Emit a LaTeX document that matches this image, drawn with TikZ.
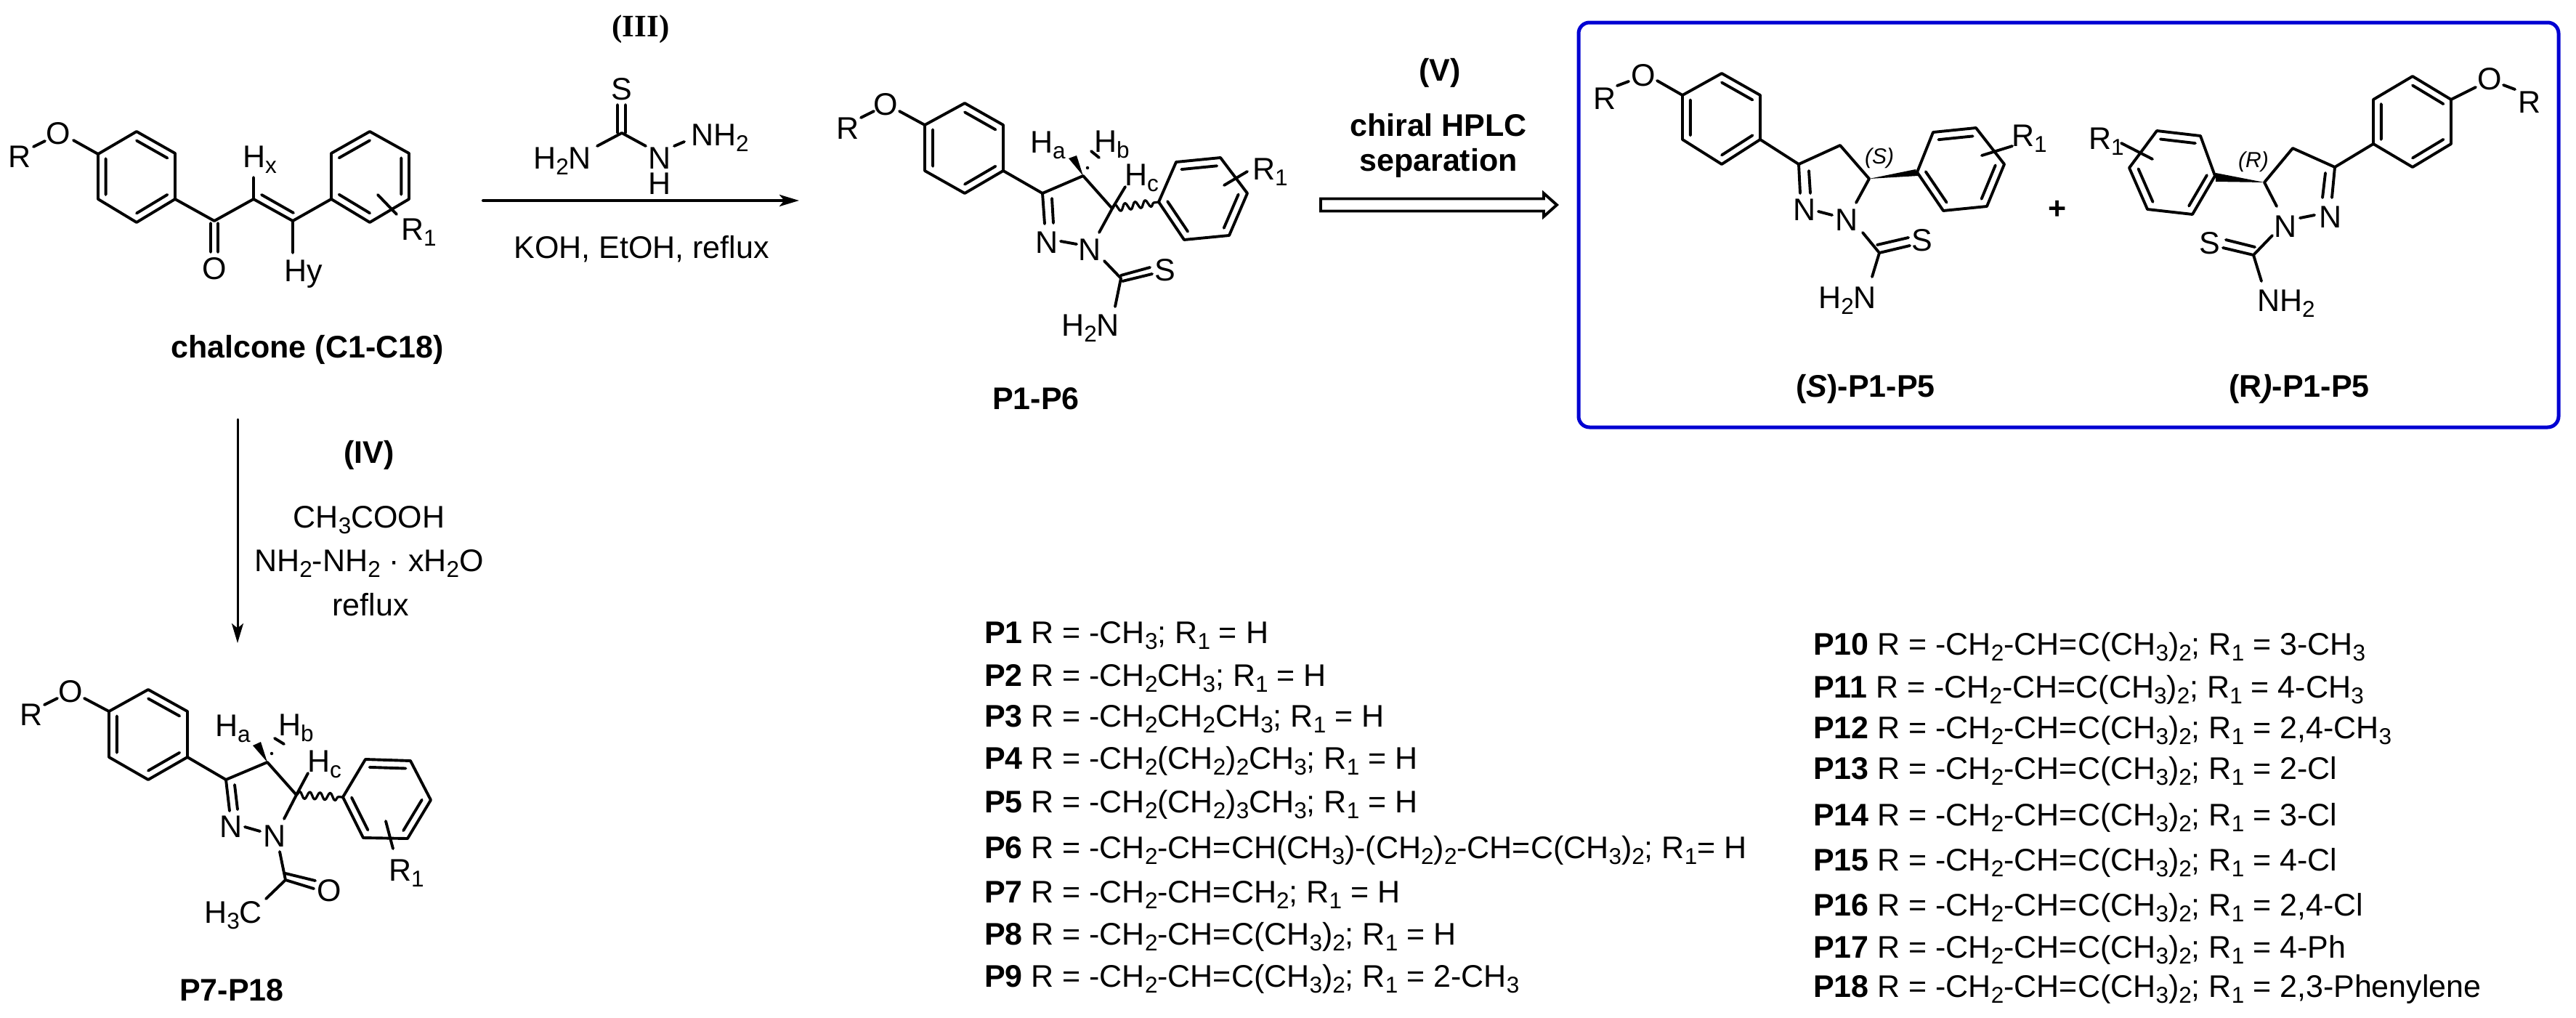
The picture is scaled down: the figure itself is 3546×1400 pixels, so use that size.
\documentclass[tikz,border=0pt]{standalone}
\usepackage{fontspec}
\setmainfont{Liberation Sans}
\newfontfamily\romanfont{Liberation Serif}
\usetikzlibrary{calc,arrows.meta,decorations.pathmorphing}
\definecolor{boxblue}{RGB}{0,0,210}
\newcommand\labfont{\fontsize{8.6pt}{10.3pt}\selectfont}
\newcommand\sbs[1]{\raisebox{-1.7pt}{\fontsize{6.3pt}{7pt}\selectfont #1}}
\newcommand\rone{R\sbs{1}}
\newcommand\prenyl{-CH\sbs{2}-CH=C(CH\sbs{3})\sbs{2}}
% ring outline, with inner lines on the edges 1-2, 3-4 and 5-6
\newcommand\benzring[6]{%
	\draw[bond] #1--#2--#3--#4--#5--#6--cycle;
	\coordinate (cc) at ($#1!.5!#4$);
	\draw[bond] ($#1!.2!(cc)$)--($#2!.2!(cc)$) ($#3!.2!(cc)$)--($#4!.2!(cc)$) ($#5!.2!(cc)$)--($#6!.2!(cc)$);
}
\tikzset{
	bond/.style={line width=.78pt},
	atom/.style={inner sep=0pt,text height=6.1pt,text depth=0pt},
	boldlab/.style={atom,font={\labfont\bfseries}},
	listrow/.style={inner sep=0pt,anchor=base west},
	wavy/.style={line width=.65pt,decorate,decoration={snake,amplitude=1pt,segment length=2.8pt}},
	rxn/.style={line width=.8pt,-{Stealth[length=5.4pt,width=3.2pt,inset=1.3pt]}},
	hollow/.style={line width=.78pt,miter limit=10,line join=miter},
}
\begin{document}
\begin{tikzpicture}[line join=round,line cap=round,x=.2pt,y=-.2pt,font=\labfont]
	\useasboundingbox (0,0) rectangle (3546,1400);
	% chalcone
	\benzring{(188,181)}{(241,211)}{(241,274)}{(188,306)}{(135,274)}{(135,212)}
	\benzring{(456,211)}{(509,181)}{(563,211)}{(563,274)}{(509,306)}{(456,274)}
	\node[atom] (chalR) at (27,215) {R};
	\node[atom] (chalO) at (80,183) {O};
	\node[atom] (chalOk) at (295,369) {O};
	\node[atom,anchor=west] (chalHx) at (333,215) {H\sbs{x}};
	\node[atom,anchor=west] (chalHy) at (390,372) {Hy};
	\node[atom,anchor=west] (chalRa) at (551,315) {\rone};
	\node[boldlab] (chalname) at (423,477) {chalcone (C1-C18)};
	\draw[bond]
	(46,202)--(62,194)
	(101,193)--(135,212)
	(241,274)--(295,304)--(349,274)--(403,304)--(456,274)
	(290,307)--(290,347) (300,307)--(300,347)
	(349,274)--(349,244)
	(403,304)--(403,348)
	(360,268)--(404,293)
	(520,268)--(546,295)
	;
	% reaction III
	\node[atom,font={\labfont\romanfont\bfseries}] (stepIII) at (882,35) {(III)};
	\node[atom] (tsS) at (856,122) {S};
	\node[atom,anchor=east] (tsNa) at (815,217) {H\sbs{2}N};
	\node[atom] (tsN) at (908,217) {N};
	\node[atom] (tsH) at (908,252) {H};
	\node[atom,anchor=west] (tsNb) at (950,185) {NH\sbs{2}};
	\draw[bond]
	(850,144)--(850,183) (861,144)--(861,183)
	(822,201)--(856,183)--(889,201)
	(928,201)--(942,195)
	;
	\coordinate (rxnIIIa) at (665,276);
	\coordinate (rxnIIIb) at (1100,276);
	\draw[rxn] (rxnIIIa)--(rxnIIIb);
	\node[atom] (condIII) at (883,340) {KOH, EtOH, reflux};
	% P1-P6
	\benzring{(1328,142)}{(1381,172)}{(1381,235)}{(1328,266)}{(1273,235)}{(1273,172)}
	\benzring{(1619,223)}{(1680,217)}{(1717,266)}{(1692,324)}{(1630,330)}{(1595,278)}
	\coordinate (pCa) at (1435,266);
	\coordinate (pCb) at (1491,242);
	\coordinate (pCc) at (1531,287);
	\coordinate (pAr) at (1595,278);
	\node[atom] (pR) at (1167,176) {R};
	\node[atom] (pO) at (1219,143) {O};
	\node[atom,anchor=west] (pHa) at (1417,195) {H\sbs{a}};
	\node[atom,anchor=west] (pHb) at (1505,194) {H\sbs{b}};
	\node[atom,anchor=west] (pHc) at (1547,240) {H\sbs{c}};
	\node[atom] (pNb) at (1441,333) {N};
	\node[atom] (pNa) at (1500,343) {N};
	\node[atom] (pS) at (1604,371) {S};
	\node[atom,anchor=east] (pNH) at (1542,447) {H\sbs{2}N};
	\node[atom,anchor=west] (pRa) at (1723,232) {\rone};
	\node[boldlab] (pname) at (1426,548) {P1-P6};
	\draw[bond]
	(1185,162)--(1203,153)
	(1238,153)--(1273,172)
	(1381,235)--(pCa)--(pCb)--(pCc)--(1513,320)
	(pCa)--(1438,308) (1448,273)--(1450,307)
	(1460,332)--(1482,336)
	(1520,359)--(1543,383)--(1535,422)
	(1543,379)--(1583,368) (1545,387)--(1586,377)
	(pCc)--(1549,257)
	(1685,255)--(1717,236)
	(1502,208)--(1513,217)
	;
	\fill (pCb)--(1471,218)--(1482,214)--cycle;
	\fill (1497,231) circle (.45pt);
	\draw[wavy] (pCc)--(pAr);
	% reaction V
	\node[boldlab] (stepV) at (1982,96) {(V)};
	\node[boldlab] (hplcA) at (1980,172) {chiral HPLC};
	\node[boldlab] (hplcB) at (1980,220) {separation};
	\coordinate (rxnVa) at (1818,282);
	\coordinate (rxnVb) at (2143,282);
	\draw[hollow] ($(rxnVa)+(0,-8.5)$)--($(rxnVb)+(-18,-8.5)$)--($(rxnVb)+(-18,-16)$)--(rxnVb)--($(rxnVb)+(-18,16)$)--($(rxnVb)+(-18,8.5)$)--($(rxnVa)+(0,8.5)$)--cycle;
	% frame
	\draw[boxblue,line width=1pt,rounded corners=3pt] (2173,31) rectangle (3522,588);
	% S form
	\benzring{(2370,101)}{(2423,131)}{(2423,192)}{(2370,226)}{(2316,192)}{(2316,131)}
	\benzring{(2661,182)}{(2720,176)}{(2759,226)}{(2735,284)}{(2675,290)}{(2639,237)}
	\coordinate (sCa) at (2476,226);
	\coordinate (sCb) at (2533,200);
	\coordinate (sCc) at (2573,246);
	\node[atom] (sR) at (2209,135) {R};
	\node[atom] (sO) at (2262,103) {O};
	\node[atom] (sNb) at (2484,288) {N};
	\node[atom] (sNa) at (2542,302) {N};
	\node[atom] (sS) at (2646,330) {S};
	\node[atom,anchor=east] (sNH) at (2584,409) {H\sbs{2}N};
	\node[atom,anchor=west] (sRa) at (2768,186) {\rone};
	\node[inner sep=0pt,font={\fontsize{6pt}{7pt}\selectfont\itshape}] (sLab) at (2587,218) {(S)};
	\node[boldlab] (sname) at (2568,531) {(\textit{S})-P1-P5};
	\draw[bond]
	(2226,118)--(2242,112)
	(2281,111)--(2316,131)
	(2423,192)--(sCa)--(sCb)--(sCc)--(2555,279)
	(sCa)--(2478,266) (2490,235)--(2492,266)
	(2503,291)--(2522,296)
	(2564,320)--(2587,348)--(2577,381)
	(2584,337)--(2627,327) (2587,348)--(2629,338)
	(2728,214)--(2770,201)
	;
	\fill (sCc)--(2637,233)--(2640,242)--cycle;
	\node[boldlab] (plus) at (2832,286) {+};
	% R form
	\benzring{(3321,105)}{(3374,137)}{(3374,198)}{(3321,230)}{(3267,198)}{(3267,137)}
	\benzring{(2969,180)}{(3029,187)}{(3049,242)}{(3018,295)}{(2956,288)}{(2931,231)}
	\coordinate (rCa) at (3214,230);
	\coordinate (rCb) at (3156,204);
	\coordinate (rCc) at (3117,251);
	\node[atom] (rR) at (3482,140) {R};
	\node[atom] (rO) at (3427,108) {O};
	\node[atom] (rNb) at (3208,298) {N};
	\node[atom] (rNa) at (3146,311) {N};
	\node[atom] (rS) at (3042,334) {S};
	\node[atom,anchor=west] (rNH) at (3106,413) {NH\sbs{2}};
	\node[atom,anchor=west] (rRa) at (2874,190) {\rone};
	\node[inner sep=0pt,font={\fontsize{6pt}{7pt}\selectfont\itshape}] (rLab) at (3102,223) {(R)};
	\node[boldlab] (rname) at (3165,531) {(R\textit{)}-P1-P5};
	\draw[bond]
	(3446,117)--(3462,123)
	(3374,137)--(3408,120)
	(3267,198)--(rCa)--(rCb)--(rCc)--(3134,284)
	(rCa)--(3210,272) (3201,238)--(3197,272)
	(3186,296)--(3166,300)
	(3128,324)--(3102,351)--(3113,387)
	(3104,340)--(3064,330) (3102,351)--(3060,341)
	(2963,219)--(2920,197)
	;
	\fill (rCc)--(3050,238)--(3050,250)--cycle;
	% reaction IV
	\coordinate (rxnIVa) at (327,577);
	\coordinate (rxnIVb) at (327,885);
	\draw[rxn,line width=.6pt] (rxnIVa)--(rxnIVb);
	\node[boldlab] (stepIV) at (508,622) {(IV)};
	\node[atom] (condIVa) at (508,711) {CH\sbs{3}COOH};
	\node[atom] (condIVb) at (508,771) {NH\sbs{2}-NH\sbs{2} {\textperiodcentered} xH\sbs{2}O};
	\node[atom] (condIVc) at (510,832) {reflux};
	% P7-P18
	\benzring{(204,949)}{(258,979)}{(258,1042)}{(204,1073)}{(150,1042)}{(150,979)}
	\benzring{(503,1045)}{(565,1047)}{(593,1101)}{(561,1154)}{(500,1153)}{(472,1097)}
	\coordinate (qCa) at (311,1073);
	\coordinate (qCb) at (368,1049);
	\coordinate (qCc) at (408,1094);
	\coordinate (qAr) at (472,1097);
	\node[atom] (qR) at (43,983) {R};
	\node[atom] (qO) at (97,951) {O};
	\node[atom,anchor=west] (qHa) at (295,998) {H\sbs{a}};
	\node[atom,anchor=west] (qHb) at (382,997) {H\sbs{b}};
	\node[atom,anchor=west] (qHc) at (422,1047) {H\sbs{c}};
	\node[atom] (qNb) at (318,1137) {N};
	\node[atom] (qNa) at (378,1150) {N};
	\node[atom] (qOk) at (453,1225) {O};
	\node[atom,anchor=east] (qMe) at (362,1255) {H\sbs{3}C};
	\node[atom,anchor=west] (qRa) at (534,1197) {\rone};
	\node[boldlab] (qname) at (319,1362) {P7-P18};
	\draw[bond]
	(61,970)--(79,961)
	(116,961)--(150,979)
	(258,1042)--(qCa)--(qCb)--(qCc)--(391,1127)
	(qCa)--(316,1116) (323,1080)--(327,1114)
	(337,1138)--(358,1144)
	(385,1172)--(393,1211)--(366,1237)
	(393,1202)--(434,1212) (393,1211)--(432,1223)
	(qCc)--(424,1064)
	(531,1130)--(541,1168)
	(378,1016)--(391,1024)
	;
	\fill (qCb)--(348,1026)--(359,1021)--cycle;
	\fill (374,1037) circle (.45pt);
	\draw[wavy] (qCc)--(qAr);
	% substituent lists
	\foreach \idx/\txt/\yy in {
		P1/{-CH\sbs{3}; \rone{} = H}/885,
		P2/{-CH\sbs{2}CH\sbs{3}; \rone{} = H}/944,
		P3/{-CH\sbs{2}CH\sbs{2}CH\sbs{3}; \rone{} = H}/1000,
		P4/{-CH\sbs{2}(CH\sbs{2})\sbs{2}CH\sbs{3}; \rone{} = H}/1058,
		P5/{-CH\sbs{2}(CH\sbs{2})\sbs{3}CH\sbs{3}; \rone{} = H}/1118,
		P6/{-CH\sbs{2}-CH=CH(CH\sbs{3})-(CH\sbs{2})\sbs{2}-CH=C(CH\sbs{3})\sbs{2}; \rone{}= H}/1181,
		P7/{-CH\sbs{2}-CH=CH\sbs{2}; \rone{} = H}/1242,
		P8/{\prenyl; \rone{} = H}/1300,
		P9/{\prenyl; \rone{} = 2-CH\sbs{3}}/1358}
	{\node[listrow] (\idx) at (1354,\yy) {\textbf{\idx} R = \txt};}
	\foreach \idx/\txt/\yy in {
		P10/{3-CH\sbs{3}}/901,
		P11/{4-CH\sbs{3}}/960,
		P12/{2,4-CH\sbs{3}}/1016,
		P13/{2-Cl}/1072,
		P14/{3-Cl}/1136,
		P15/{4-Cl}/1198,
		P16/{2,4-Cl}/1260,
		P17/{4-Ph}/1318,
		P18/{2,3-Phenylene}/1372}
	{\node[listrow] (\idx) at (2495,\yy) {\textbf{\idx} R = \prenyl; \rone{} = \txt};}
\end{tikzpicture}
\end{document}
